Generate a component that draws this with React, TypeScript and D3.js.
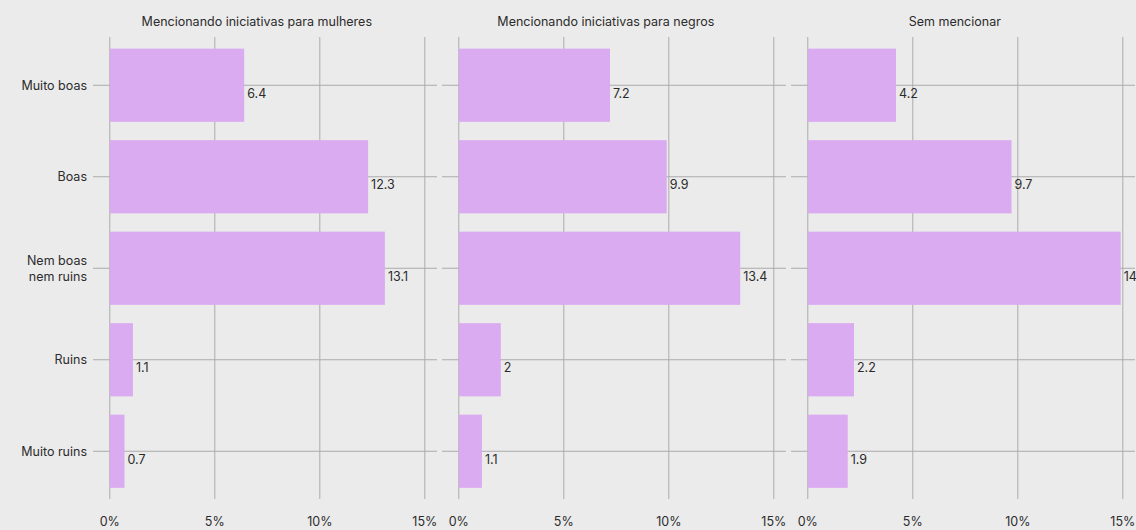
import React, { useEffect, useRef } from 'react';
import * as d3 from 'd3';

const categories = ['Muito boas', 'Boas', 'Nem boas|nem ruins', 'Ruins', 'Muito ruins'];
const panelTitles = ['Mencionando iniciativas para mulheres', 'Mencionando iniciativas para negros', 'Sem mencionar'];
const mulheres = [6.4, 12.3, 13.1, 1.1, 0.7];
const negros = [7.2, 9.9, 13.4, 2, 1.1];
const semMencionar = [4.2, 9.7, 14.9, 2.2, 1.9];
const tickValues = [0, 5, 10, 15];

const W = 1136, H = 530;
const FONT = 'Inter, "Noto Sans", sans-serif';

export default function App() {
    const ref = useRef<SVGSVGElement>(null);

    useEffect(() => {
        document.body.style.margin = '0';
        const svg = d3.select(ref.current);
        svg.selectAll('*').remove();

        svg.append('rect').attr('width', W).attr('height', H).attr('fill', '#ebebeb');

        const series = [mulheres, negros, semMencionar];
        const left = 93, panelW = 344, gap = 5;
        const top = 37, bottom = 499;

        const y = d3.scaleBand<string>()
            .domain(categories)
            .range([39.5, 497])
            .paddingInner(0.2)
            .paddingOuter(0.1);

        // category labels
        const yLab = svg.append('g')
            .attr('font-family', FONT).attr('font-size', 12.5).attr('fill', '#2b2b2b')
            .attr('text-anchor', 'end');
        categories.forEach(c => {
            const lines = c.split('|');
            const cy = y(c)! + y.bandwidth() / 2;
            lines.forEach((l, i) => {
                yLab.append('text')
                    .attr('x', left - 6)
                    .attr('y', cy + (i - (lines.length - 1) / 2) * 16)
                    .attr('dy', '0.35em')
                    .text(l);
            });
        });

        series.forEach((vals, p) => {
            const x0 = left + p * (panelW + gap);
            const x = d3.scaleLinear().domain([-0.8, 15.58]).range([x0, x0 + panelW]);
            const g = svg.append('g');

            // grid
            g.selectAll('line.h').data(categories).enter().append('line')
                .attr('x1', x0).attr('x2', Math.min(x0 + panelW, W))
                .attr('y1', d => y(d)! + y.bandwidth() / 2)
                .attr('y2', d => y(d)! + y.bandwidth() / 2)
                .attr('stroke', '#ababab').attr('stroke-width', 1);
            g.selectAll('line.v').data(tickValues).enter().append('line')
                .attr('x1', d => x(d)).attr('x2', d => x(d))
                .attr('y1', top).attr('y2', bottom)
                .attr('stroke', '#ababab').attr('stroke-width', 1);

            // bars
            g.selectAll('rect.bar').data(vals).enter().append('rect')
                .attr('x', x(0))
                .attr('y', (d, i) => y(categories[i])!)
                .attr('width', d => x(d) - x(0))
                .attr('height', y.bandwidth())
                .attr('fill', '#dbabf1');

            // value labels
            g.selectAll('text.val').data(vals).enter().append('text')
                .attr('x', d => x(d) + 3)
                .attr('y', (d, i) => y(categories[i])! + y.bandwidth() / 2 + 8)
                .attr('dy', '0.35em')
                .attr('font-family', FONT).attr('font-size', 12.5).attr('fill', '#2b2b2b')
                .text(d => String(d));

            // title
            g.append('text')
                .attr('x', x(7))
                .attr('y', 22)
                .attr('dy', '0.35em')
                .attr('text-anchor', 'middle')
                .attr('font-family', FONT).attr('font-size', 12.5).attr('fill', '#2b2b2b')
                .text(panelTitles[p]);

            // x tick labels
            g.selectAll('text.tick').data(tickValues).enter().append('text')
                .attr('x', d => x(d))
                .attr('y', 522)
                .attr('dy', '0.35em')
                .attr('text-anchor', 'middle')
                .attr('font-family', FONT).attr('font-size', 12.5).attr('fill', '#2b2b2b')
                .text(d => d + '%');
        });
    }, []);

    return <svg ref={ref} width={W} height={H} style={{ display: 'block' }} />;
}
